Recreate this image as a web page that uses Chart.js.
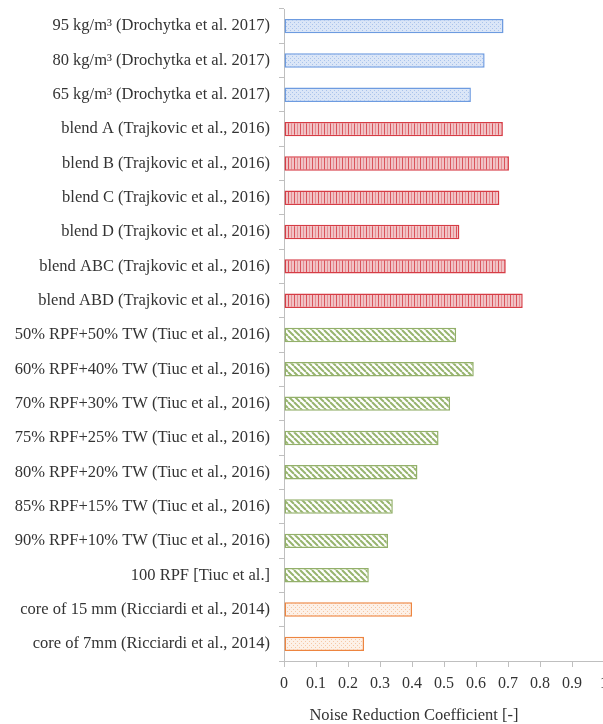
<!DOCTYPE html>
<html>
<head>
<meta charset="utf-8">
<script src="https://cdn.jsdelivr.net/npm/chart.js@4"></script>
<style>
  html, body { margin: 0; padding: 0; background: #fff; overflow: hidden; }
  #wrap { width: 603px; height: 724px; overflow: hidden; }
  #box { width: 604px; height: 724px; }
</style>
</head>
<body>
<div id="wrap"><div id="box"><canvas id="nrcChart"></canvas></div></div>
<script>
// Categories top to bottom
const labels = [
    '95 kg/m³ (Drochytka et al. 2017)',
    '80 kg/m³ (Drochytka et al. 2017)',
    '65 kg/m³ (Drochytka et al. 2017)',
    'blend A (Trajkovic et al., 2016)',
    'blend B (Trajkovic et al., 2016)',
    'blend C (Trajkovic et al., 2016)',
    'blend D (Trajkovic et al., 2016)',
    'blend ABC (Trajkovic et al., 2016)',
    'blend ABD (Trajkovic et al., 2016)',
    '50% RPF+50% TW (Tiuc et al., 2016)',
    '60% RPF+40% TW (Tiuc et al., 2016)',
    '70% RPF+30% TW (Tiuc et al., 2016)',
    '75% RPF+25% TW (Tiuc et al., 2016)',
    '80% RPF+20% TW (Tiuc et al., 2016)',
    '85% RPF+15% TW (Tiuc et al., 2016)',
    '90% RPF+10% TW (Tiuc et al., 2016)',
    '100 RPF [Tiuc et al.]',
    'core of 15 mm (Ricciardi et al., 2014)',
    'core of 7mm (Ricciardi et al., 2014)'
];

// Noise reduction coefficient values
const nrcValues = [0.686, 0.627, 0.584, 0.684, 0.703, 0.673, 0.548, 0.693, 0.746,
    0.538, 0.593, 0.519, 0.483, 0.417, 0.340, 0.325, 0.265, 0.400, 0.250];

// Source group for each bar
const groups = ['drochytka', 'drochytka', 'drochytka',
    'trajkovic', 'trajkovic', 'trajkovic', 'trajkovic', 'trajkovic', 'trajkovic',
    'tiuc', 'tiuc', 'tiuc', 'tiuc', 'tiuc', 'tiuc', 'tiuc', 'tiuc',
    'ricciardi', 'ricciardi'];

const xTicks = [0, 0.1, 0.2, 0.3, 0.4, 0.5, 0.6, 0.7, 0.8, 0.9, 1];
const xTitle = 'Noise Reduction Coefficient [-]';

// small pattern helpers
function makePattern(size, draw) {
    const c = document.createElement('canvas');
    c.width = size; c.height = size;
    const g = c.getContext('2d');
    draw(g, size);
    return c.getContext('2d').createPattern(c, 'repeat');
}

const dotsBlue = makePattern(4, function (g) {
    g.fillStyle = '#dbe6f7'; g.fillRect(0, 0, 4, 4);
    g.fillStyle = '#a9c3ec';
    g.fillRect(0, 0, 1, 1); g.fillRect(2, 2, 1, 1);
});
const linesRed = makePattern(6, function (g) {
    g.fillStyle = '#f1c3c6'; g.fillRect(0, 0, 6, 6);
    g.fillStyle = '#d9525a'; g.fillRect(0, 0, 1, 6);
    g.fillStyle = '#e58e93'; g.fillRect(3, 0, 1, 6);
});
const diagGreen = makePattern(6, function (g) {
    g.fillStyle = '#ffffff'; g.fillRect(0, 0, 6, 6);
    g.strokeStyle = '#97b46e'; g.lineWidth = 2;
    for (let k = -6; k <= 6; k += 6) {
        g.beginPath(); g.moveTo(k, 0); g.lineTo(k + 6, 6); g.stroke();
    }
});
const dotsOrange = makePattern(4, function (g) {
    g.fillStyle = '#fdf1e8'; g.fillRect(0, 0, 4, 4);
    g.fillStyle = '#f6c8a6';
    g.fillRect(1, 1, 1, 1); g.fillRect(3, 3, 1, 1);
});

const fills = { drochytka: dotsBlue, trajkovic: linesRed, tiuc: diagGreen, ricciardi: dotsOrange };
const borders = { drochytka: '#6d9be0', trajkovic: '#d63c45', tiuc: '#93b06a', ricciardi: '#ed8540' };

// axis title sits a bit left of the plot centre, as in the original
const axisTitle = {
    id: 'axisTitle',
    afterDraw(chart) {
        const g = chart.ctx;
        const area = chart.chartArea;
        g.save();
        g.font = '16.5px "Liberation Serif"';
        g.fillStyle = '#333';
        g.textAlign = 'center';
        g.textBaseline = 'middle';
        g.fillText(xTitle, (area.left + area.right) / 2 - 30, 716);
        g.restore();
    }
};

const ctx = document.getElementById('nrcChart').getContext('2d');
const nrcChart = new Chart(ctx, {
    type: 'bar',
    data: {
        labels: labels,
        datasets: [{
            data: nrcValues,
            backgroundColor: groups.map(g => fills[g]),
            borderColor: groups.map(g => borders[g]),
            borderWidth: 1.5,
            borderSkipped: false,
            categoryPercentage: 1,
            barPercentage: 0.42
        }]
    },
    plugins: [axisTitle],
    options: {
        indexAxis: 'y',
        responsive: true,
        maintainAspectRatio: false,
        animation: false,
        layout: { padding: { top: 9, left: 0, right: 0, bottom: 0 } },
        plugins: {
            legend: { display: false },
            tooltip: { enabled: false }
        },
        scales: {
            x: {
                min: 0,
                max: 1,
                afterBuildTicks: function (scale) {
                    scale.ticks = xTicks.map(v => ({ value: v }));
                },
                afterFit: function (scale) {
                    scale.height = 63;
                    scale.paddingLeft = 0;
                    scale.paddingRight = 0;
                },
                grid: { drawOnChartArea: false, drawTicks: true, tickLength: 6, color: '#bfbfbf' },
                border: { color: '#bfbfbf', width: 1 },
                ticks: {
                    color: '#333',
                    padding: 7,
                    maxRotation: 0,
                    font: { family: '"Liberation Serif"', size: 16 },
                    callback: function (v) { return String(Math.round(v * 10) / 10); }
                }
            },
            y: {
                afterFit: function (scale) {
                    scale.width = 284;
                    scale.paddingTop = 0;
                    scale.paddingBottom = 0;
                },
                grid: { drawOnChartArea: false, drawTicks: true, tickLength: 5, color: '#bfbfbf', offset: true },
                border: { color: '#bfbfbf', width: 1 },
                ticks: {
                    color: '#333',
                    padding: 9,
                    autoSkip: false,
                    font: { family: '"Liberation Serif"', size: 16.5 }
                }
            }
        }
    }
});
</script>
</body>
</html>
